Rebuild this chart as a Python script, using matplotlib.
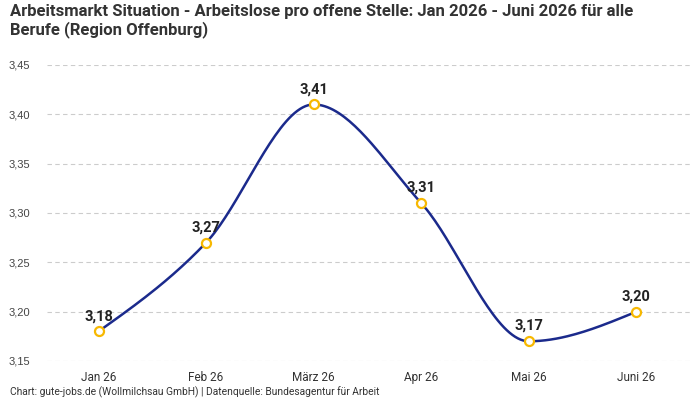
import numpy as np
import matplotlib.pyplot as plt

months = ['Jan 26', 'Feb 26', 'März 26', 'Apr 26', 'Mai 26', 'Juni 26']
values = [3.18, 3.27, 3.41, 3.31, 3.17, 3.20]
yticks = [3.15, 3.20, 3.25, 3.30, 3.35, 3.40, 3.45]

line_color = '#1b2a8c'
marker_color = '#f7b801'


def monotone_slopes(x, y):
    # tangents like d3.curveMonotoneX
    x = np.asarray(x, float)
    y = np.asarray(y, float)
    h = np.diff(x)
    s = np.diff(y) / h
    n = len(x)
    t = np.zeros(n)
    for i in range(1, n - 1):
        p = (s[i - 1] * h[i] + s[i] * h[i - 1]) / (h[i - 1] + h[i])
        t[i] = (np.sign(s[i - 1]) + np.sign(s[i])) * min(abs(s[i - 1]), abs(s[i]), 0.5 * abs(p))
    t[0] = (3 * s[0] - t[1]) / 2
    t[-1] = (3 * s[-1] - t[-2]) / 2
    return t


x = np.arange(len(values))
t = monotone_slopes(x, values)
xs, ys = [], []
for i in range(len(x) - 1):
    u = np.linspace(0, 1, 40)
    h = x[i + 1] - x[i]
    h00 = 2 * u**3 - 3 * u**2 + 1
    h10 = u**3 - 2 * u**2 + u
    h01 = -2 * u**3 + 3 * u**2
    h11 = u**3 - u**2
    xs.extend(x[i] + u * h)
    ys.extend(h00 * values[i] + h10 * h * t[i] + h01 * values[i + 1] + h11 * h * t[i + 1])

fig = plt.figure(figsize=(7, 4), dpi=100)
ax = fig.add_axes([0.067, 0.0975, 0.919, 0.74])

ax.plot(xs, ys, color=line_color, lw=1.8, zorder=3)
ax.plot(x, values, 'o', ms=6.5, mfc='white', mec=marker_color, mew=1.6, zorder=4)

for xi, v in zip(x, values):
    ax.annotate(f'{v:.2f}'.replace('.', ','), (xi, v), xytext=(0, 6), textcoords='offset points',
                ha='center', va='bottom', fontsize=10.5, fontweight='bold', color='#222222',
                family='Roboto')

ax.set_xlim(-0.48, 5.5)
ax.set_ylim(3.15, 3.45)
ax.set_yticks(yticks)
ax.set_yticklabels([f'{v:.2f}'.replace('.', ',') for v in yticks], fontsize=8, color='#444444',
                   family='Liberation Sans')
ax.set_xticks(x)
ax.set_xticklabels(months, fontsize=8.5, color='#333333', family='Roboto')
ax.tick_params(axis='x', length=0, pad=7)
ax.tick_params(axis='y', length=0, pad=12)
ax.grid(axis='y', color='#cccccc', ls=(0, (4, 3)), lw=0.8)
for sp in ax.spines.values():
    sp.set_visible(False)

fig.text(0.014, 0.99, 'Arbeitsmarkt Situation - Arbeitslose pro offene Stelle: Jan 2026 - Juni 2026 für alle\nBerufe (Region Offenburg)',
         ha='left', va='top', fontsize=12, fontweight='bold', color='#333333', family='Roboto',
         linespacing=1.15)
fig.text(0.014, 0.005, 'Chart: gute-jobs.de (Wollmilchsau GmbH) | Datenquelle: Bundesagentur für Arbeit',
         ha='left', va='bottom', fontsize=7.4, color='#333333', family='Roboto')

fig.savefig('out.png', dpi=100)
